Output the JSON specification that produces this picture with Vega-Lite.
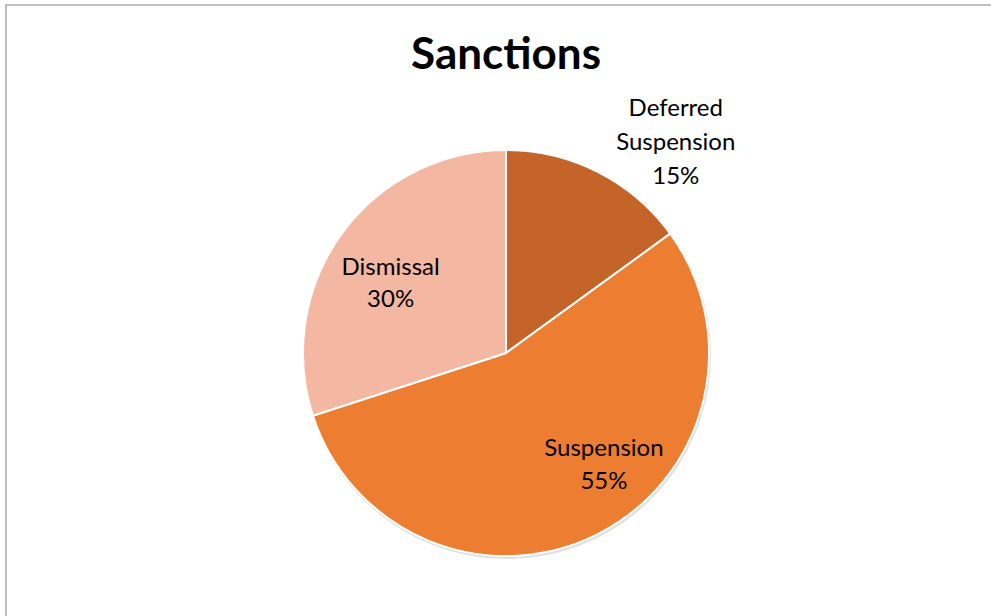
{
  "$schema": "https://vega.github.io/schema/vega-lite/v6.json",
  "autosize": {"type": "none"},
  "padding": {"left": 6, "top": 5, "right": 0, "bottom": 0},
  "width": 1000,
  "height": 696,
  "background": "white",
  "view": {"stroke": "#ABABAB", "strokeWidth": 1.5, "fill": "white"},
  "config": {
    "view": {"stroke": "#ABABAB", "strokeWidth": 1.5},
    "font": "Lato"
  },
  "title": {
    "text": "Sanctions",
    "orient": "top",
    "anchor": "middle",
    "baseline": "alphabetic",
    "offset": -108,
    "font": "Lato",
    "fontSize": 44,
    "fontWeight": "bold",
    "color": "#000000"
  },
  "data": {
    "values": [
      {"category": "Deferred Suspension", "value": 15, "order": 1, "label": "Deferred\nSuspension\n15%"},
      {"category": "Suspension", "value": 55, "order": 2, "label": "Suspension\n55%"},
      {"category": "Dismissal", "value": 30, "order": 3, "label": "Dismissal\n30%"}
    ]
  },
  "encoding": {
    "theta": {"field": "value", "type": "quantitative", "stack": true},
    "order": {"field": "order", "type": "quantitative"}
  },
  "layer": [
    {
      "mark": {"type": "arc", "outerRadius": 204, "xOffset": 1, "yOffset": 2, "color": "#000000", "opacity": 0.12, "strokeWidth": 0},
      "encoding": {}
    },
    {
      "mark": {"type": "arc", "outerRadius": 203, "stroke": "white", "strokeWidth": 2},
      "encoding": {
        "color": {
          "field": "category",
          "type": "nominal",
          "scale": {
            "domain": ["Deferred Suspension", "Suspension", "Dismissal"],
            "range": ["#C46428", "#ED7D31", "#F4B7A2"]
          },
          "legend": null
        }
      }
    },
    {
      "mark": {"type": "text", "radius": 266, "dx": 49, "dy": -7, "fontSize": 24, "lineHeight": 34, "lineBreak": "\n", "align": "center", "baseline": "middle", "color": "#000000"},
      "encoding": {
        "detail": {"field": "category"},
        "text": {"condition": {"test": "datum.category === 'Deferred Suspension'", "field": "label"}, "value": ""}
      }
    },
    {
      "mark": {"type": "text", "radius": 143, "dx": 33, "dy": -31, "fontSize": 24, "lineHeight": 33, "lineBreak": "\n", "align": "center", "baseline": "middle", "color": "#000000"},
      "encoding": {
        "detail": {"field": "category"},
        "text": {"condition": {"test": "datum.category === 'Suspension'", "field": "label"}, "value": ""}
      }
    },
    {
      "mark": {"type": "text", "radius": 134, "dx": -7, "dy": -6, "fontSize": 24, "lineHeight": 32, "lineBreak": "\n", "align": "center", "baseline": "middle", "color": "#000000"},
      "encoding": {
        "detail": {"field": "category"},
        "text": {"condition": {"test": "datum.category === 'Dismissal'", "field": "label"}, "value": ""}
      }
    }
  ]
}
